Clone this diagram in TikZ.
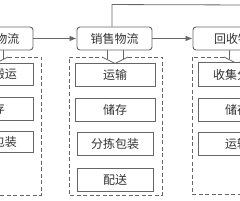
\documentclass[tikz,border=0pt]{standalone}
\usepackage{fontspec}
\newfontfamily\cjk{Noto Sans CJK SC}
\usetikzlibrary{arrows.meta}
\definecolor{ln}{HTML}{666666}
\definecolor{tx}{HTML}{333333}
\tikzset{
  hdr/.style={draw=ln, fill=white, rounded corners=3pt, line width=0.9pt, minimum height=23pt, inner sep=0pt, font=\cjk\fontsize{12}{12}\selectfont, text=tx},
  ibox/.style={draw=ln, fill=white, line width=0.9pt, minimum height=23pt, inner sep=0pt, font=\cjk\fontsize{12}{12}\selectfont, text=tx},
  dbox/.style={draw=ln, line width=0.8pt, dash pattern=on 4pt off 2.5pt},
  conn/.style={draw=ln, line width=0.8pt},
  arr/.style={conn, -{Latex[length=7pt,width=5.5pt]}},
}
\begin{document}
\begin{tikzpicture}[x=1pt,y=-1pt]
\useasboundingbox (0,0) rectangle (240,200);
% headers
\node[hdr, minimum width=75pt] (L) at (-4.5,38.5) {供应物流};
\node[hdr, minimum width=75pt] (M) at (114.5,38.5) {销售物流};
\node[hdr, minimum width=90pt] (R) at (238,38.5) {回收物流};
\draw[arr] (L) -- (M);
\draw[arr] (M) -- (R);
\coordinate (topR) at (250,5);
\draw[conn] ([xshift=-2.5pt]M.north) -- ++(0,-22) -- (topR);
% left column
\draw[dbox] (8,57) -- (41,57) -- (41,195) -- (-52,195) -- (-52,57) -- (-18,57);
\coordinate (Ltip) at (-5,63.5);
\draw[conn] (-18,57) -- (Ltip) -- (8,57);
\draw[conn] (L.south -| -13,0) -- (-13,59.5);
\draw[conn] (L.south -| 3,0) -- (3,59.5);
\node[ibox, minimum width=80pt, minimum height=22pt] (L1) at (-7,74) {装卸搬运};
\node[ibox, minimum width=80pt] (L2) at (-7,109) {储存};
\node[ibox, minimum width=80pt, minimum height=21pt] (L3) at (-7,142) {分拣包装};
% middle column
\draw[dbox] (128,57) -- (162,57) -- (162,195) -- (69,195) -- (69,57) -- (102,57);
\coordinate (Mtip) at (115,63.5);
\draw[conn] (102,57) -- (Mtip) -- (128,57);
\draw[conn] (M.south -| 107,0) -- (107,59.5);
\draw[conn] (M.south -| 123,0) -- (123,59.5);
\node[ibox, minimum width=80pt] (M1) at (115,75) {运输};
\node[ibox, minimum width=80pt] (M2) at (115,109.5) {储存};
\node[ibox, minimum width=76pt] (M3) at (115,144) {分拣包装};
\node[ibox, minimum width=76pt] (M4) at (115,180) {配送};
% right column
\draw[dbox] (224,57) -- (192,57) -- (192,194) -- (260,194);
\coordinate (Rtip) at (237,63.5);
\draw[conn] (224,57) -- (Rtip) -- (250,57);
\draw[conn] (R.south -| 229,0) -- (229,59.5);
\draw[conn] (R.south -| 245,0) -- (245,59.5);
\node[ibox, minimum width=78pt, minimum height=24pt] (R1) at (237,74.5) {收集分类};
\node[ibox, minimum width=78pt] (R2) at (237,109.5) {储存};
\node[ibox, minimum width=78pt] (R3) at (237,143.5) {运输};
\end{tikzpicture}
\end{document}
